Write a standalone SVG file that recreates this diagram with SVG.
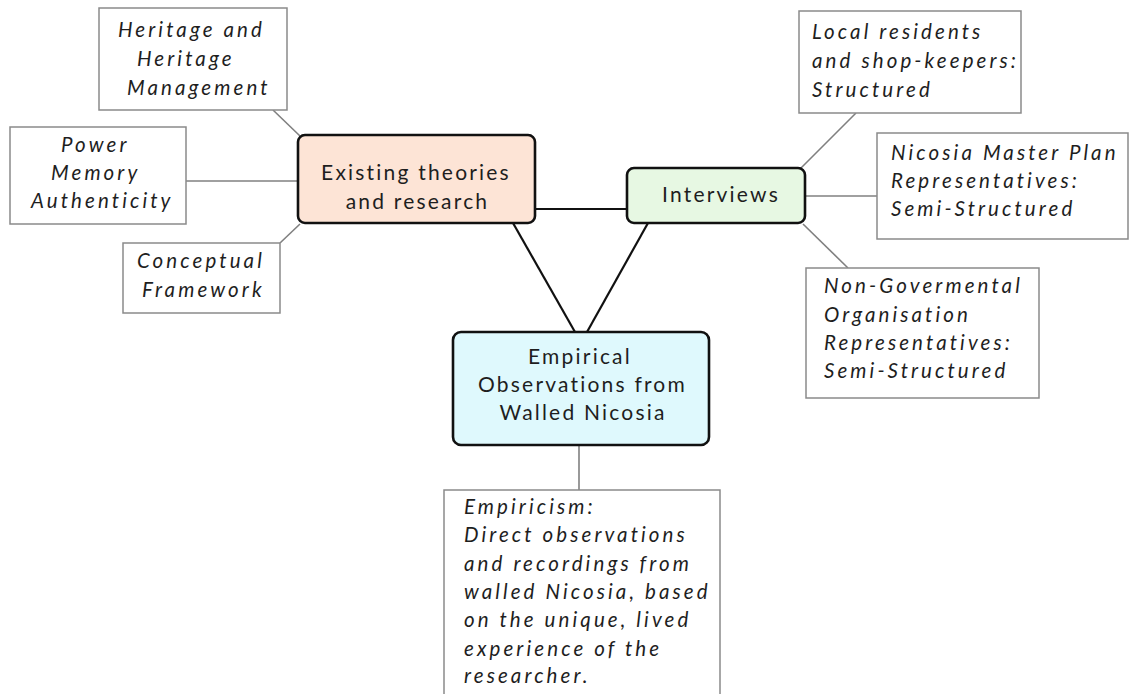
<svg xmlns="http://www.w3.org/2000/svg" width="1133" height="694" viewBox="0 0 1133 694">
  <style>
    .main { stroke: #111; stroke-width: 2.6; }
    .leaf { fill: #fff; stroke: #8a8a8a; stroke-width: 1.5; }
    .strong { stroke: #111; stroke-width: 2.2; fill: none; }
    .thin { stroke: #808080; stroke-width: 1.6; fill: none; }
    .t { font-family: Lato, "Open Sans", sans-serif; font-size: 21px; fill: #1e1e1e; letter-spacing: 2.2px; text-anchor: middle; }
    .i { font-family: Lato, "Open Sans", sans-serif; font-size: 20.5px; font-style: italic; fill: #1e1e1e; letter-spacing: 3.1px; }
  </style>
  <rect width="1133" height="694" fill="#fff"/>

  <g id="connectors">
    <line class="strong" x1="535" y1="209" x2="627" y2="209"/>
    <line class="strong" x1="513" y1="223" x2="575" y2="332"/>
    <line class="strong" x1="648" y1="223" x2="587" y2="332"/>
    <line class="thin" x1="273" y1="110" x2="300" y2="136"/>
    <line class="thin" x1="186" y1="181" x2="298" y2="181"/>
    <line class="thin" x1="280" y1="243" x2="300" y2="224"/>
    <line class="thin" x1="856" y1="113" x2="801" y2="168"/>
    <line class="thin" x1="805" y1="196" x2="877" y2="196"/>
    <line class="thin" x1="803" y1="224" x2="848" y2="268"/>
    <line class="thin" x1="579" y1="445" x2="579" y2="490"/>
  </g>

  <g id="existing">
    <rect class="main" x="298" y="135" width="237" height="88" rx="7" fill="#fde4d6"/>
    <text class="t" x="416" y="180">Existing theories</text>
    <text class="t" x="417.5" y="209">and research</text>
  </g>

  <g id="interviews">
    <rect class="main" x="627" y="168" width="178" height="55" rx="7" fill="#e7f8e3"/>
    <text class="t" x="721" y="202">Interviews</text>
  </g>

  <g id="empirical">
    <rect class="main" x="453" y="332" width="256" height="113" rx="8" fill="#dff9fd"/>
    <text class="t" x="580" y="364">Empirical</text>
    <text class="t" x="582.5" y="392">Observations from</text>
    <text class="t" x="583" y="420">Walled Nicosia</text>
  </g>

  <g id="heritage">
    <rect class="leaf" x="99" y="8" width="188" height="102"/>
    <text class="i" x="118" y="37">Heritage and</text>
    <text class="i" x="137" y="66">Heritage</text>
    <text class="i" x="127" y="95">Management</text>
  </g>

  <g id="power">
    <rect class="leaf" x="10" y="127" width="176" height="97"/>
    <text class="i" x="61" y="152">Power</text>
    <text class="i" x="51" y="180">Memory</text>
    <text class="i" x="31" y="208">Authenticity</text>
  </g>

  <g id="conceptual">
    <rect class="leaf" x="123" y="243" width="157" height="70"/>
    <text class="i" x="137" y="268">Conceptual</text>
    <text class="i" x="142" y="297">Framework</text>
  </g>

  <g id="local">
    <rect class="leaf" x="799" y="11" width="222" height="102"/>
    <text class="i" x="812" y="39">Local residents</text>
    <text class="i" x="812" y="68">and shop-keepers:</text>
    <text class="i" x="812" y="97">Structured</text>
  </g>

  <g id="masterplan">
    <rect class="leaf" x="877" y="133" width="251" height="106"/>
    <text class="i" x="891" y="160">Nicosia Master Plan</text>
    <text class="i" x="891" y="188">Representatives:</text>
    <text class="i" x="891" y="216">Semi-Structured</text>
  </g>

  <g id="ngo">
    <rect class="leaf" x="806" y="268" width="233" height="130"/>
    <text class="i" x="824" y="293">Non-Govermental</text>
    <text class="i" x="824" y="322">Organisation</text>
    <text class="i" x="824" y="350">Representatives:</text>
    <text class="i" x="824" y="378">Semi-Structured</text>
  </g>

  <g id="empiricism">
    <rect class="leaf" x="444" y="490" width="276" height="220"/>
    <text class="i" x="464" y="514">Empiricism:</text>
    <text class="i" x="464" y="542">Direct observations</text>
    <text class="i" x="464" y="571">and recordings from</text>
    <text class="i" x="464" y="599">walled Nicosia, based</text>
    <text class="i" x="464" y="627">on the unique, lived</text>
    <text class="i" x="464" y="656">experience of the</text>
    <text class="i" x="464" y="683">researcher.</text>
  </g>
</svg>
